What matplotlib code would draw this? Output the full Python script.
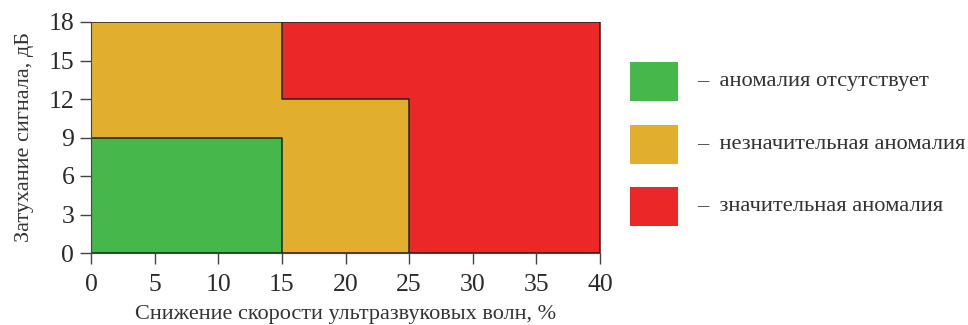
import matplotlib
matplotlib.use('Agg')
import matplotlib.pyplot as plt
from matplotlib.patches import Rectangle

plt.rcParams['font.family'] = ['Liberation Serif', 'DejaVu Serif']

# zone boundaries: x segment edges and upper limit of attenuation per segment
categories = ['аномалия отсутствует', 'незначительная аномалия', 'значительная аномалия']
colors = ['#45b74b', '#e2ae2e', '#ec2727']
green_x = [0, 15]
green_top = [9, 9]
orange_x = [0, 15, 25]
orange_top = [18, 12, 12]
red_x = [0, 40]
red_top = [18, 18]
xticks = [0, 5, 10, 15, 20, 25, 30, 35, 40]
yticks = [0, 3, 6, 9, 12, 15, 18]

W, H = 968, 325
fig = plt.figure(figsize=(W/100, H/100), dpi=100)
ax = fig.add_axes([91/W, 1-253/H, (600-91)/W, (253-22)/H])

zones = [(red_x, red_top, colors[2]), (orange_x, orange_top, colors[1]), (green_x, green_top, colors[0])]
for xs, tops, c in zones:
    ax.fill_between(xs, 0, tops, step='post', facecolor=c, edgecolor='#222222', linewidth=1.1)

ax.set_xlim(0, 40)
ax.set_ylim(0, 18)
ax.set_xticks(xticks)
ax.set_yticks(yticks)
ax.tick_params(labelsize=18.5, direction='out', length=8, width=1, color='#444444',
               labelcolor='#2a2a2a', pad=4)
ax.tick_params(axis='x', pad=7)
for s in ['top', 'right']:
    ax.spines[s].set_visible(False)
for s in ['left', 'bottom']:
    ax.spines[s].set_color('#444444')

ax.set_xlabel('Снижение скорости ультразвуковых волн, %', fontsize=16, color='#333333')
ax.set_ylabel('Затухание сигнала, дБ', fontsize=16, color='#333333')
ax.xaxis.set_label_coords(0.5, (253-305)/231)
ax.yaxis.set_label_coords((34-91)/509, 0.5)

# legend drawn by hand: square + label per category
for i, (name, c) in enumerate(zip(categories, colors)):
    top = 62 + i * 62.5
    fig.add_artist(Rectangle((630/W, 1-(top+39)/H), 48/W, 39/H, facecolor=c,
                             edgecolor='none', transform=fig.transFigure))
    fig.text(697/W, 1-(top+19.5)/H, '–  ' + name, fontsize=16.2, color='#333333',
             ha='left', va='center')

fig.savefig('out.png', dpi=100)
